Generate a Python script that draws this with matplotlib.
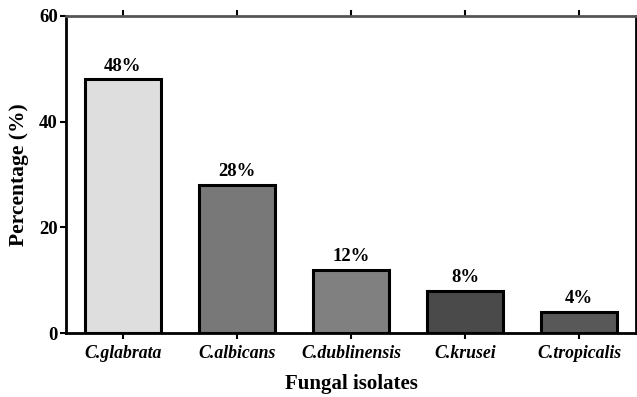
import matplotlib.pyplot as plt

isolates = ['C.glabrata', 'C.albicans', 'C.dublinensis', 'C.krusei', 'C.tropicalis']
percent = [48, 28, 12, 8, 4]
fills = ['#dedede', '#787878', '#808080', '#4a4a4a', '#585858']

plt.rcParams['font.family'] = ['Liberation Serif', 'DejaVu Serif']
plt.rcParams['font.weight'] = 'bold'

fig = plt.figure(figsize=(6.37, 3.97), dpi=100)
ax = fig.add_axes([66 / 637, 64 / 397, 570 / 637, 317 / 397])

pos = range(len(isolates))
bars = ax.bar(pos, percent, width=0.67, color=fills, edgecolor='black', linewidth=2.2)
for b, v in zip(bars, percent):
    ax.text(b.get_x() + b.get_width() / 2, v + 0.9, f'{v}%', ha='center', va='bottom',
            fontsize=13.5, fontweight='bold')

ax.set_xlim(-0.5, len(isolates) - 0.5)
ax.set_ylim(0, 60)
ax.set_yticks([0, 20, 40, 60])
ax.set_xticks(list(pos))
ax.set_xticklabels(isolates, fontstyle='italic', fontweight='bold', fontsize=12.8)
ax.tick_params(axis='y', labelsize=13.5, width=1.5, length=4, pad=2)
ax.tick_params(axis='x', width=1.5, length=4, top=True, pad=5)
for s in ax.spines.values():
    s.set_linewidth(2)
ax.spines['top'].set_color('#555555')

ax.set_xlabel('Fungal isolates', fontsize=15, fontweight='bold', labelpad=8)
ax.set_ylabel('Percentage (%)', fontsize=15.5, fontweight='bold', labelpad=7)

fig.savefig('out.png', dpi=100)
